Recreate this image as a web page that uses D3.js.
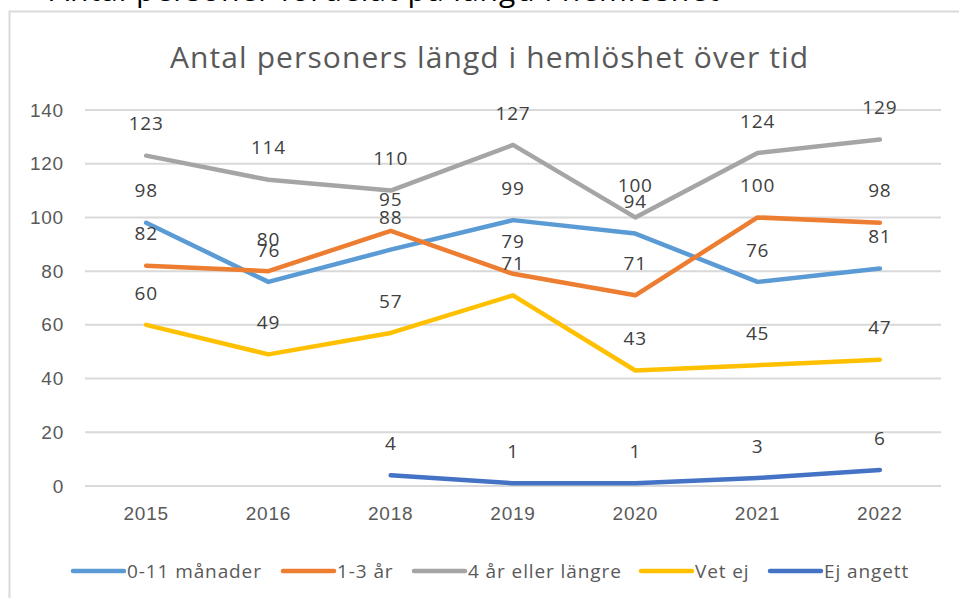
<!DOCTYPE html>
<html>
<head>
<meta charset="utf-8">
<script src="https://cdn.jsdelivr.net/npm/d3@7"></script>
<style>
  body { margin: 0; background: #fff; }
  svg { display: block; font-family: "Open Sans", "Liberation Sans", sans-serif; }
</style>
</head>
<body>
<svg id="chart" width="959" height="598"></svg>
<script>
// Data
var years = ["2015", "2016", "2018", "2019", "2020", "2021", "2022"];
var seriesNames = ["0-11 månader", "1-3 år", "4 år eller längre", "Vet ej", "Ej angett"];
var months0to11 = [98, 76, 88, 99, 94, 76, 81];
var years1to3 = [82, 80, 95, 79, 71, 100, 98];
var years4plus = [123, 114, 110, 127, 100, 124, 129];
var vetEj = [60, 49, 57, 71, 43, 45, 47];
var ejAngett = [null, null, 4, 1, 1, 3, 6];
var yTicks = [0, 20, 40, 60, 80, 100, 120, 140];
var colors = ["#5b9bd5", "#ed7d31", "#a5a5a5", "#ffc000", "#4472c4"];

var allSeries = [months0to11, years1to3, years4plus, vetEj, ejAngett];

var svg = d3.select("#chart");

// cut-off text above the chart (screenshot leftover)
svg.append("text")
    .attr("x", 50)
    .attr("y", 1)
    .attr("fill", "#000")
    .style("font-size", "30px")
    .style("letter-spacing", "1px")
    .text("Antal personer fördelat på längd i hemlöshet");

// chart frame
svg.append("rect")
    .attr("x", 9.5).attr("y", 11.5)
    .attr("width", 980).attr("height", 620)
    .attr("fill", "#fff")
    .attr("stroke", "#d9d9d9")
    .attr("stroke-width", 2);

// title
svg.append("text")
    .attr("x", 489)
    .attr("y", 68)
    .attr("text-anchor", "middle")
    .attr("fill", "#595959")
    .style("font-size", "30px")
    .attr("textLength", 638)
    .attr("lengthAdjust", "spacing")
    .text("Antal personers längd i hemlöshet över tid");

var margin = { left: 85, right: 18, top: 110, bottom: 112 };
var width = 959 - margin.left - margin.right,
    height = 598 - margin.top - margin.bottom;

var x = d3.scaleBand().domain(years).range([0, width]);
var y = d3.scaleLinear().domain([0, 140]).range([height, 0]);

var g = svg.append("g")
    .attr("transform", "translate(" + margin.left + "," + margin.top + ")");

// gridlines
g.append("g")
    .selectAll("line")
    .data(yTicks)
    .enter().append("line")
    .attr("x1", 0).attr("x2", width)
    .attr("y1", function (d) { return y(d); })
    .attr("y2", function (d) { return y(d); })
    .attr("stroke", "#d9d9d9")
    .attr("stroke-width", 2);

// Y axis
var yAxis = g.append("g")
    .attr("transform", "translate(-21,0)")
    .call(d3.axisLeft(y).tickValues(yTicks).tickSize(0).tickPadding(0));
yAxis.select(".domain").remove();
yAxis.selectAll("text")
    .attr("fill", "#595959")
    .style("font-size", "19px")
    .style("letter-spacing", "0.8px")
    .style("font-family", "inherit");

// X axis
var xAxis = g.append("g")
    .attr("transform", "translate(0," + height + ")")
    .call(d3.axisBottom(x).tickSize(0).tickPadding(21));
xAxis.select(".domain").remove();
xAxis.selectAll("text")
    .attr("fill", "#595959")
    .style("font-size", "19px")
    .style("letter-spacing", "0.8px")
    .style("font-family", "inherit");

var line = d3.line()
    .defined(function (d) { return d != null; })
    .x(function (d, i) { return x(years[i]) + x.bandwidth() / 2; })
    .y(function (d) { return y(d); });

allSeries.forEach(function (values, s) {
    g.append("path")
        .datum(values)
        .attr("fill", "none")
        .attr("stroke", colors[s])
        .attr("stroke-width", 4.5)
        .attr("stroke-linejoin", "round")
        .attr("stroke-linecap", "round")
        .attr("d", line);
});

// data labels
allSeries.forEach(function (values, s) {
    g.append("g")
        .selectAll("text")
        .data(values.map(function (v, i) { return { v: v, i: i }; })
            .filter(function (d) { return d.v != null; }))
        .enter().append("text")
        .attr("x", function (d) { return x(years[d.i]) + x.bandwidth() / 2; })
        .attr("y", function (d) { return y(d.v) - 32; })
        .attr("dy", "0.35em")
        .attr("text-anchor", "middle")
        .attr("fill", "#404040")
        .style("font-size", "19px")
        .style("letter-spacing", "0.8px")
        .text(function (d) { return d.v; });
});

// legend
var legendX = [73, 283, 414, 641, 770];
var legend = svg.append("g").attr("transform", "translate(0,571)");
seriesNames.forEach(function (name, s) {
    legend.append("line")
        .attr("x1", legendX[s]).attr("x2", legendX[s] + 51)
        .attr("y1", 0).attr("y2", 0)
        .attr("stroke", colors[s])
        .attr("stroke-width", 4.5)
        .attr("stroke-linecap", "round");
    legend.append("text")
        .attr("x", legendX[s] + 54)
        .attr("y", 0)
        .attr("dy", "0.35em")
        .attr("fill", "#595959")
        .style("font-size", "19px")
        .style("letter-spacing", "0.9px")
        .text(name);
});
</script>
</body>
</html>
